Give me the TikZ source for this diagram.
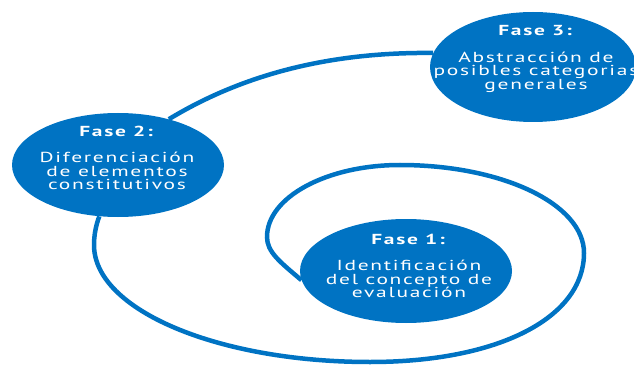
\documentclass[tikz,border=0pt]{standalone}
\usepackage{fontspec}
\usepackage{xcolor}
\usepackage{tikz}
\usetikzlibrary{shapes.geometric,backgrounds}

\newfontfamily\fasefont[FakeStretch=1.48,LetterSpace=12]{PT Sans}
\definecolor{faseblue}{RGB}{0,115,195}

\tikzset{
  fase/.style={ellipse,fill=faseblue,inner sep=0pt,minimum width=212pt,minimum height=104pt},
  fasetext/.style={text=white,align=center,inner sep=0pt,font=\fasefont\fontsize{14.5}{13.5}\selectfont},
  spiral/.style={draw=faseblue,line width=4.5pt}
}

\begin{document}
\begin{tikzpicture}[x=1pt,y=-1pt]
  \useasboundingbox (0,0) rectangle (634,366);
  \node[fase] (f1) at (406,271) {};
  \node[fase] (f2) at (118,165) {};
  \node[fase,minimum width=206pt,minimum height=110pt] (f3) at (533,67) {};
  \node[fasetext] (t1) at (409,266) {\textbf{Fase 1:}\\[13pt]Identificación\\del concepto de\\evaluación};
  \node[fasetext] (t2) at (117,158) {\textbf{Fase 2:}\\[13pt]Diferenciación\\de elementos\\constitutivos};
  \node[fasetext] (t3) at (536,59) {\textbf{Fase 3:}\\[13pt]Abstracción de\\posibles categorias\\generales};
  \coordinate (in) at (267,237);
  \coordinate (top) at (400,165);
  \coordinate (right) at (584,253);
  \coordinate (bottom) at (370,362);
  \coordinate (left) at (94,245);
  \begin{scope}[on background layer]
    \draw[spiral] (f1.185) .. controls (280,262) and (267,252) .. (in)
      .. controls (267,197) and (327,165) .. (top)
      .. controls (502,165) and (584,204) .. (right)
      .. controls (584,318) and (498,362) .. (bottom)
      .. controls (218,362) and (94,310) .. (left)
      .. controls (94,235) and (96,225) .. (f2.250);
    \draw[spiral] (f2.42) .. controls (250,70) and (340,52) .. (f3.172);
  \end{scope}
\end{tikzpicture}
\end{document}
